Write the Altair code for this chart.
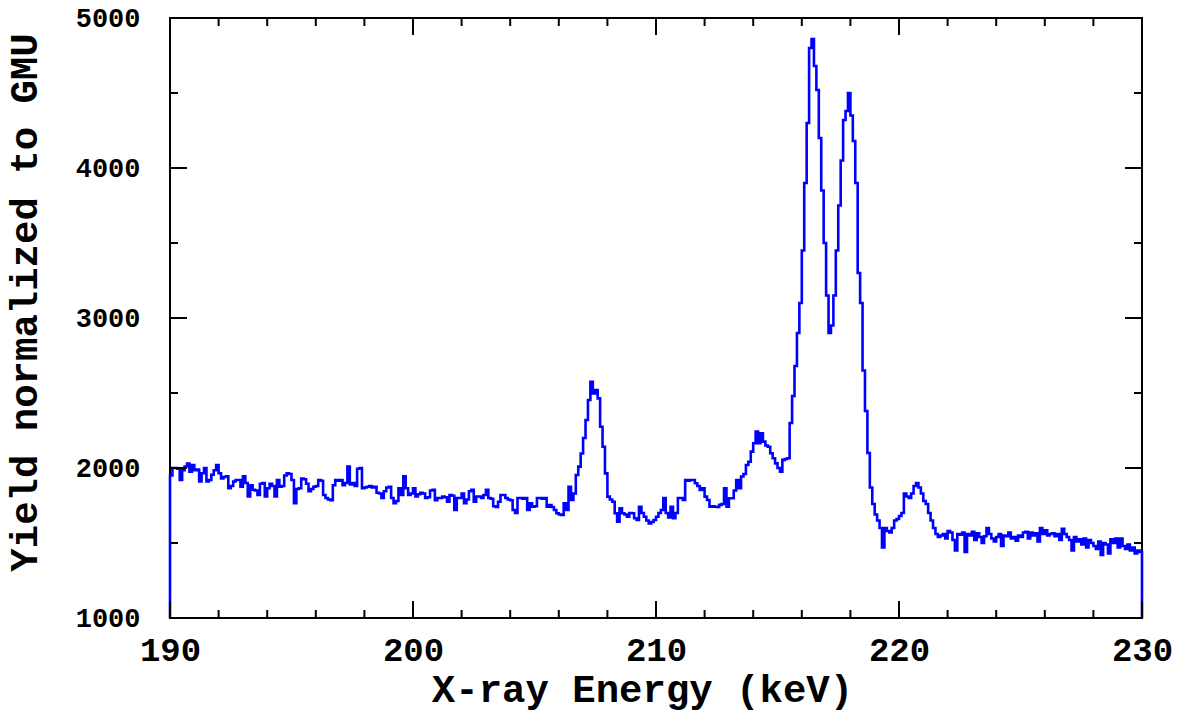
import altair as alt
import pandas as pd

# ---------------- data ----------------
E_START = 190.0      # keV, first bin edge
BIN_WIDTH = 0.1      # keV
Y_FLOOR = 1000       # histogram drops to the axis floor at both ends

# yield per 0.1 keV bin, in 10-bin rows
seg_190 = [
    1950, 2000, 2000, 1995, 1920, 1985, 2010, 2030, 1975, 2020,
    1985, 1990, 1910, 1965, 2000, 1910, 1920, 1955, 1985, 2020,
    1965, 1930, 1940, 1945, 1865, 1880, 1910, 1920, 1920, 1875,
    1945, 1900, 1810, 1885, 1855, 1850, 1820, 1895, 1900, 1810,
    1865, 1895, 1880, 1810, 1920, 1875, 1880, 1950, 1965, 1960,
    1920, 1765, 1860, 1865, 1930, 1925, 1895, 1845, 1860, 1875,
    1880, 1920, 1915, 1820, 1800, 1790, 1785, 1885, 1920, 1915,
]
seg_197 = [
    1920, 1885, 1900, 2010, 1890, 1900, 1880, 1995, 2000, 1865,
    1870, 1875, 1880, 1870, 1875, 1835, 1830, 1800, 1845, 1870,
    1875, 1800, 1765, 1780, 1865, 1820, 1945, 1865, 1820, 1830,
    1865, 1810, 1825, 1835, 1830, 1800, 1805, 1850, 1855, 1785,
    1800, 1800, 1810, 1805, 1775, 1820, 1815, 1720, 1800, 1800,
    1830, 1765, 1790, 1845, 1855, 1775, 1810, 1810, 1800, 1820,
    1855, 1800, 1795, 1745, 1740, 1775, 1820, 1820, 1800, 1790,
]
seg_204 = [
    1785, 1720, 1700, 1800, 1800, 1795, 1800, 1720, 1765, 1742,
    1745, 1800, 1800, 1795, 1800, 1742, 1753, 1740, 1720, 1698,
    1690, 1687, 1765, 1720, 1875, 1787, 1830, 1953, 2009, 2097,
    2200, 2320, 2453, 2575, 2497, 2520, 2464, 2275, 2142, 1964,
    1809, 1790, 1775, 1698, 1642, 1731, 1698, 1690, 1675, 1700,
    1698, 1665, 1653, 1742, 1700, 1675, 1650, 1630, 1640, 1653,
    1675, 1700, 1720, 1800, 1700, 1670, 1742, 1665, 1700, 1800,
]
seg_211 = [
    1800, 1787, 1920, 1915, 1920, 1920, 1898, 1880, 1853, 1865,
    1809, 1787, 1742, 1745, 1742, 1740, 1754, 1760, 1865, 1742,
    1798, 1798, 1850, 1920, 1865, 1943, 1960, 2020, 2042, 2109,
    2165, 2243, 2165, 2231, 2176, 2150, 2142, 2098, 2065, 2031,
    2000, 1976, 2054, 2060, 2065, 2300, 2480, 2680, 2900, 3100,
    3450, 3900, 4300, 4800, 4860, 4680, 4520, 4200, 3850, 3500,
    3150, 2900, 2950, 3150, 3450, 3750, 4050, 4320, 4380, 4500,
]
seg_218 = [
    4350, 4180, 3900, 3300, 3100, 2650, 2380, 2100, 1870, 1760,
    1690, 1650, 1600, 1470, 1600, 1580, 1570, 1600, 1650, 1660,
    1680, 1700, 1830, 1810, 1800, 1830, 1880, 1900, 1870, 1830,
    1780, 1760, 1700, 1650, 1600, 1560, 1540, 1550, 1560, 1530,
    1580, 1570, 1520, 1450, 1560, 1555, 1570, 1440, 1560, 1550,
    1575, 1520, 1565, 1540, 1500, 1545, 1600, 1560, 1530, 1510,
    1540, 1560, 1480, 1550, 1545, 1570, 1530, 1540, 1515, 1550,
]
seg_225 = [
    1540, 1570, 1575, 1530, 1570, 1550, 1565, 1510, 1600, 1560,
    1585, 1550, 1560, 1565, 1545, 1560, 1520, 1595, 1560, 1540,
    1520, 1450, 1540, 1510, 1525, 1490, 1530, 1470, 1520, 1500,
    1480, 1460, 1510, 1420, 1500, 1490, 1430, 1525, 1500, 1530,
    1470, 1530, 1480, 1460, 1490, 1450, 1470, 1430, 1450, 1440,
]
yield_vals = seg_190 + seg_197 + seg_204 + seg_211 + seg_218 + seg_225

x_major = [190, 200, 210, 220, 230]
x_minor = [192, 194, 196, 198, 202, 204, 206, 208, 212, 214, 216, 218,
           222, 224, 226, 228]
y_major = [1000, 2000, 3000, 4000, 5000]
y_minor = [1500, 2500, 3500, 4500]

X_TITLE = "X-ray Energy (keV)"
Y_TITLE = "Yield normalized to GMU"

# ---------------- build table ----------------
rows = [{"e": E_START, "y": Y_FLOOR, "o": 0}]
for i, v in enumerate(yield_vals):
    rows.append({"e": round(E_START + i * BIN_WIDTH, 4), "y": v, "o": i + 1})
e_end = round(E_START + len(yield_vals) * BIN_WIDTH, 4)
rows.append({"e": e_end, "y": yield_vals[-1], "o": len(yield_vals) + 1})
rows.append({"e": e_end, "y": Y_FLOOR, "o": len(yield_vals) + 2})
df = pd.DataFrame(rows)

W, H = 972, 600
MAJ, MIN = 17, 8
FONT = "Liberation Mono"
WEIGHT = 600

xs = alt.Scale(domain=[190, 230], nice=False, zero=False)
ys = alt.Scale(domain=[1000, 5000], nice=False, zero=False)

x_axis = alt.Axis(
    title=X_TITLE, values=x_major, format="d", domain=False, ticks=False,
    grid=False, labelFlush=False, labelOverlap=False,
    labelFont=FONT, labelFontSize=34, labelFontWeight=WEIGHT, labelPadding=15,
    labelColor="black", titleFont=FONT, titleFontSize=39,
    titleFontWeight=WEIGHT, titleColor="black", titlePadding=3, titleX=472)
y_axis = alt.Axis(
    title=Y_TITLE, values=y_major, format="d", domain=False, ticks=False,
    grid=False, labelFlush=False, labelOverlap=False,
    labelFont=FONT, labelFontSize=27, labelFontWeight=WEIGHT, labelPadding=30,
    labelColor="black", titleFont=FONT, titleFontSize=39,
    titleFontWeight=WEIGHT, titleColor="black", titlePadding=31, titleY=284)

line = alt.Chart(df).mark_line(
    interpolate="step-after", color="#0000ff", strokeWidth=2.6
).encode(
    x=alt.X("e:Q", scale=xs, axis=x_axis, title=X_TITLE),
    y=alt.Y("y:Q", scale=ys, axis=y_axis, title=Y_TITLE),
    order="o:Q",
)


def xticks(vals, length):
    d = pd.DataFrame({"e": vals})
    base = alt.Chart(d).mark_rule(color="black", strokeWidth=2)
    bottom = base.encode(x=alt.X("e:Q", scale=xs, axis=x_axis, title=X_TITLE),
                         y=alt.value(H), y2=alt.value(H - length))
    top = base.encode(x=alt.X("e:Q", scale=xs, axis=x_axis, title=X_TITLE),
                      y=alt.value(0), y2=alt.value(length))
    return [bottom, top]


def yticks(vals, length):
    d = pd.DataFrame({"y": vals})
    base = alt.Chart(d).mark_rule(color="black", strokeWidth=2)
    left = base.encode(y=alt.Y("y:Q", scale=ys, axis=y_axis, title=Y_TITLE),
                       x=alt.value(0), x2=alt.value(length))
    right = base.encode(y=alt.Y("y:Q", scale=ys, axis=y_axis, title=Y_TITLE),
                        x=alt.value(W), x2=alt.value(W - length))
    return [left, right]


layers = ([line] + xticks(x_major, MAJ) + xticks(x_minor, MIN)
          + yticks(y_major, MAJ) + yticks(y_minor, MIN))

chart = alt.layer(*layers).properties(
    width=W, height=H,
    autosize=alt.AutoSizeParams(type="none"),
    padding={"left": 170, "top": 18, "right": 38, "bottom": 99},
    background="white",
).configure_view(stroke="black", strokeWidth=2)

chart.save("out.html", embed_options={"renderer": "svg", "actions": False})
